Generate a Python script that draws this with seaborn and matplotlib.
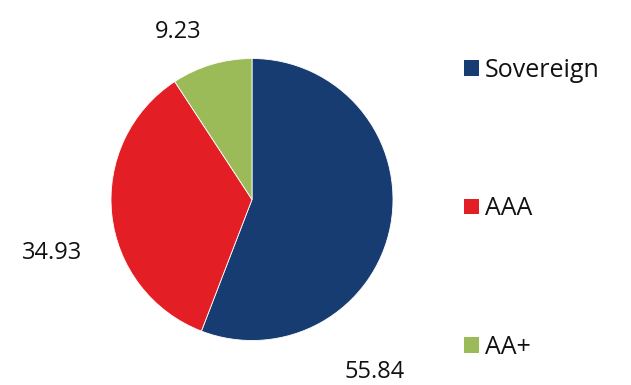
import matplotlib
matplotlib.use("Agg")
import matplotlib.pyplot as plt
import seaborn as sns
from matplotlib.patches import Patch

ratings = ["Sovereign", "AAA", "AA+"]
shares = [55.84, 34.93, 9.23]
colors = ["#173c72", "#e31e24", "#9bbb59"]

# where each value label sits (pie units, radius = 1)
label_pos = [(0.87, -1.22), (-1.42, -0.38), (-0.52, 1.19)]

sns.set_theme(style="white")
plt.rcParams["font.family"] = ["Open Sans", "DejaVu Sans"]

fig = plt.figure(figsize=(6.31, 3.85), dpi=100)
r = 141
ax = fig.add_axes([0, 0, 504 / 631, 371 / 385])
wedges, _ = ax.pie(shares, colors=colors, startangle=90, counterclock=False,
                   radius=1, wedgeprops=dict(edgecolor="white", linewidth=0.6))
ax.set_xlim(-252 / r, 252 / r)
ax.set_ylim(-185.5 / r, 185.5 / r)
ax.set_aspect("auto")
ax.axis("off")

for val, (x, y) in zip(shares, label_pos):
    ax.text(x, y, f"{val:.2f}", ha="center", va="center", fontsize=17,
            color="#111111", clip_on=False)

handles = [Patch(facecolor=c, edgecolor="none") for c in colors]
leg = fig.legend(handles, ratings, loc="upper left", bbox_to_anchor=(0.715, 0.883),
                 frameon=False, fontsize=18, handlelength=0.6, handleheight=0.6,
                 handletextpad=0.25, labelspacing=4.55, borderpad=0)
for t in leg.get_texts():
    t.set_color("#111111")

fig.savefig("out.png", dpi=100)
